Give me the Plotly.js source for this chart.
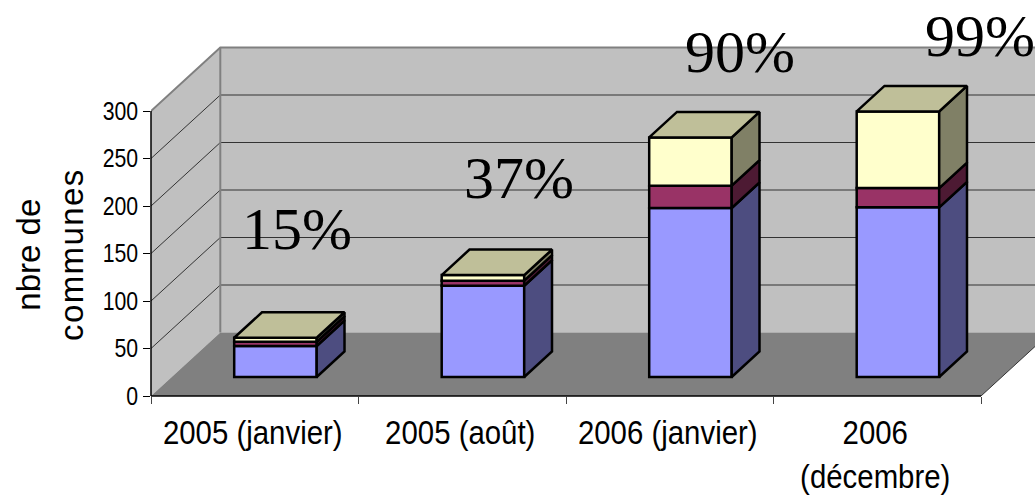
<!DOCTYPE html>
<html>
<head>
<meta charset="utf-8">
<script src="https://cdn.plot.ly/plotly-3.0.1.min.js"></script>
<style>
html,body{margin:0;padding:0;background:#fff;overflow:hidden}
</style>
</head>
<body>
<div id="chart" style="width:1035px;height:496px"></div>
<script>
// Data
const categories = ["2005 (janvier)", "2005 (août)", "2006 (janvier)", "2006<br>(décembre)"];
const seriesBlue = [32.6, 96.1, 177.9, 178.6];
const seriesMaroon = [4.5, 5.3, 23.5, 20.3];
const seriesYellow = [4.2, 5.9, 50.8, 80.7];
const percentLabels = ["15%", "37%", "90%", "99%"];
const yTicks = [0, 50, 100, 150, 200, 250, 300];

// Oblique projection, in axis units
const W = 1035, H = 496, L = 151, B = 396;
const pxPerCat = 207.5, pxPerUnit = 0.95;
const wallDx = 69.3 / pxPerCat, wallDy = 63.5 / pxPerUnit;
const nearDx = 20.7 / pxPerCat, nearDy = 19 / pxPerUnit;
const farDx = 48.5 / pxPerCat, farDy = 44.5 / pxPerUnit;
const barW = 82.5 / pxPerCat;
const xMin = -0.5, xMax = xMin + (W - L) / pxPerCat, yMax = B / pxPerUnit;
const xEnd = categories.length - 0.5, yTop = 300;

function stackBase(i, upto) {
  const s = [seriesBlue, seriesMaroon, seriesYellow];
  let t = nearDy;
  for (let k = 0; k < upto; k++) t += s[k][i];
  return t;
}
const barX = categories.map((c, i) => i + nearDx);
const edge = {color: '#000', width: 2.5};

function barTrace(vals, level, color) {
  return {type: 'bar', x: barX, y: vals, base: vals.map((v, i) => stackBase(i, level)),
    width: barW, marker: {color: color, line: edge}, hoverinfo: 'skip', showlegend: false};
}
function sideTrace(level, color) {
  const xs = [], ys = [];
  categories.forEach((c, i) => {
    const r = i + nearDx + barW / 2, r2 = r + (farDx - nearDx);
    const y0 = stackBase(i, level), y1 = stackBase(i, level + 1), d = farDy - nearDy;
    xs.push(r, r2, r2, r, r, null);
    ys.push(y0, y0 + d, y1 + d, y1, y0, null);
  });
  return {type: 'scatter', mode: 'lines', x: xs, y: ys, fill: 'toself', fillcolor: color,
    line: edge, hoverinfo: 'skip', showlegend: false};
}
function topTrace(color) {
  const xs = [], ys = [];
  categories.forEach((c, i) => {
    const l = i + nearDx - barW / 2, r = l + barW, s = farDx - nearDx;
    const y = stackBase(i, 3), d = farDy - nearDy;
    xs.push(l, r, r + s, l + s, l, null);
    ys.push(y, y, y + d, y + d, y, null);
  });
  return {type: 'scatter', mode: 'lines', x: xs, y: ys, fill: 'toself', fillcolor: color,
    line: edge, hoverinfo: 'skip', showlegend: false};
}

const data = [
  barTrace(seriesBlue, 0, '#9999ff'),
  barTrace(seriesMaroon, 1, '#993366'),
  barTrace(seriesYellow, 2, '#ffffcc'),
  sideTrace(0, '#4d4d80'),
  sideTrace(1, '#4d1a33'),
  sideTrace(2, '#808066'),
  topTrace('#bfbf99')
];

function poly(pts) { return 'M' + pts.map(p => p[0] + ',' + p[1]).join(' L') + ' Z'; }
const shapes = [];
const sh = (path, fill, color, width) => shapes.push({type: 'path', xref: 'x', yref: 'y', layer: 'below', path: path,
  fillcolor: fill, line: {color: color, width: width}});
// back wall, side wall, floor
sh(poly([[xMin + wallDx, wallDy], [xEnd + wallDx, wallDy], [xEnd + wallDx, yTop + wallDy], [xMin + wallDx, yTop + wallDy]]), '#c0c0c0', '#808080', 0);
sh(poly([[xMin, 0], [xMin, yTop], [xMin + wallDx, yTop + wallDy], [xMin + wallDx, wallDy]]), '#c0c0c0', '#808080', 0);
sh(poly([[xMin, 0], [xEnd, 0], [xEnd + wallDx, wallDy], [xMin + wallDx, wallDy]]), '#808080', '#808080', 0);
// gridlines
yTicks.slice(1, -1).forEach(v => {
  sh(`M${xMin},${v} L${xMin + wallDx},${v + wallDy} L${xEnd + wallDx},${v + wallDy}`, 'rgba(0,0,0,0)', '#333', 1);
});
// wall outlines
sh(`M${xMin},${yTop} L${xMin + wallDx},${yTop + wallDy} L${xEnd + wallDx},${yTop + wallDy}`, 'rgba(0,0,0,0)', '#808080', 2);
sh(`M${xMin + wallDx},${yTop + wallDy} L${xMin + wallDx},${wallDy}`, 'rgba(0,0,0,0)', '#808080', 2);
sh(`M${xEnd},0 L${xEnd + wallDx},${wallDy}`, 'rgba(0,0,0,0)', '#333', 1);
// axis lines
shapes.push({type: 'line', xref: 'paper', yref: 'y', x0: 0, x1: 0, y0: 0, y1: yTop, line: {color: '#000', width: 1.5}});
shapes.push({type: 'line', xref: 'x', yref: 'paper', x0: xMin, x1: xEnd, y0: 0, y1: 0, line: {color: '#000', width: 1.5}});

const pw = W - L;
const ann = (text, px, py, size, family, extra) => Object.assign({text: text, xref: 'paper', yref: 'paper',
  x: (px - L) / pw, y: (B - py) / B, showarrow: false, font: {family: family, size: size, color: '#000'}}, extra || {});
const serif = '"Liberation Serif", serif';
const pctX = [240, 462, 683, 923], pctY = [229, 178, 52, 36];
const annotations = percentLabels.map((t, i) => ann(t, pctX[i], pctY[i], 60, serif,
  {xanchor: 'left', yanchor: 'middle', align: 'left'}));
annotations.push(ann("nbre de<br><span style='letter-spacing:1.4px'>communes</span>", 50, 255, 33, '"Liberation Sans", Arial, sans-serif',
  {textangle: -90, xanchor: 'center', yanchor: 'middle'}));

const sans = '"Liberation Sans", Arial, sans-serif';
const layout = {
  width: W, height: H,
  margin: {l: L, r: 0, t: 0, b: H - B, pad: 0},
  paper_bgcolor: '#fff', plot_bgcolor: 'rgba(0,0,0,0)',
  showlegend: false, barmode: 'overlay',
  xaxis: {type: 'linear', range: [xMin, xMax], fixedrange: true, showgrid: false, zeroline: false, showline: false,
    tickmode: 'array', tickvals: categories.map((c, i) => i), ticktext: categories,
    ticks: '', ticklen: 0, tickangle: 0, tickfont: {family: sans, size: 34, color: '#000'}, ticklabelstandoff: 13,
    minor: {tickmode: 'array', tickvals: categories.concat(['']).map((c, i) => i - 0.5), ticks: 'outside', ticklen: 7, tickwidth: 1, tickcolor: '#444', showgrid: false}},
  yaxis: {type: 'linear', range: [0, yMax], fixedrange: true, showgrid: false, zeroline: false, showline: false,
    tickmode: 'array', tickvals: yTicks, ticktext: yTicks.map(String),
    ticks: 'outside', ticklen: 7, tickwidth: 1, tickcolor: '#000', tickfont: {family: sans, size: 25, color: '#000'}},
  shapes: shapes,
  annotations: annotations
};
// The reference's tick labels are horizontally condensed: squeeze each label about its anchor.
function squeeze(selector, k, anchorRight, shift) {
  document.querySelectorAll(selector).forEach(t => {
    const b = t.getBBox();
    const cx = anchorRight ? b.x + b.width + 1 : b.x + b.width / 2;
    const prev = t.getAttribute('transform') || '';
    t.setAttribute('transform', `${prev} translate(${cx + shift},0) scale(${k},1) translate(${-cx},0)`);
  });
}
Plotly.newPlot('chart', data, layout, {displayModeBar: false, staticPlot: true}).then(() => {
  squeeze('.xtick text', 0.865, false, -2);
  squeeze('.ytick text', 0.85, true, 0);
});
</script>
</body>
</html>
